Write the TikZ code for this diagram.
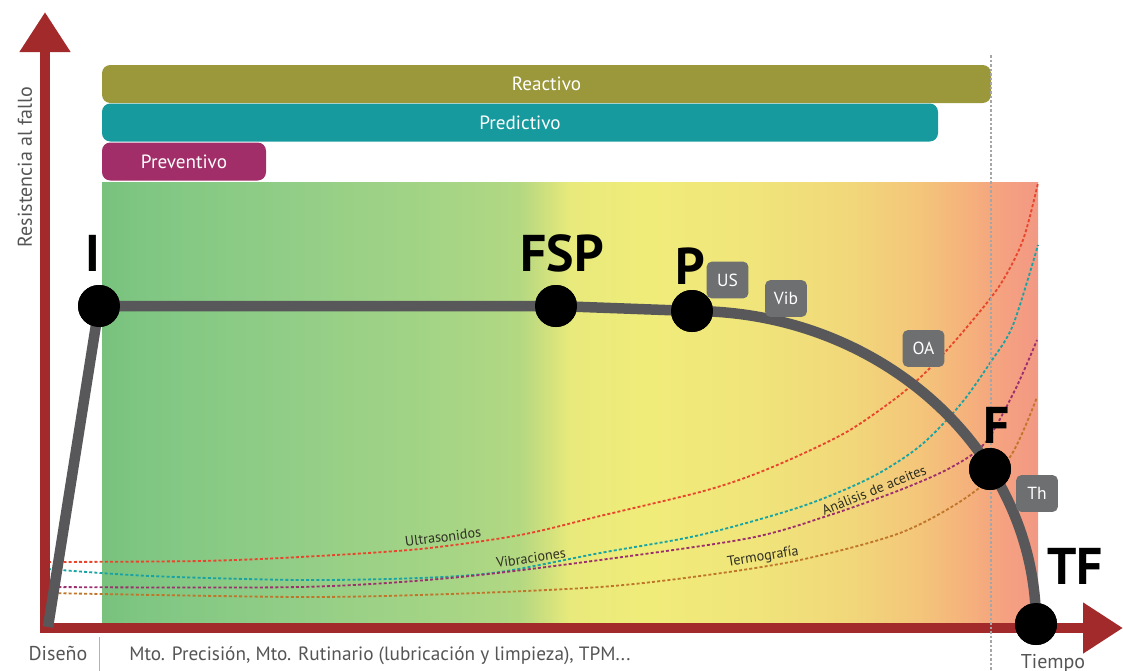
\documentclass[tikz,border=0pt]{standalone}
\usepackage{fontspec}
\setmainfont{PT Sans}
\usepackage{xcolor}
\usepackage{tikz}
\usetikzlibrary{positioning,arrows.meta}

\definecolor{axisred}{HTML}{A32A2B}
\definecolor{reactivecol}{HTML}{9B973B}
\definecolor{predictivecol}{HTML}{169A9E}
\definecolor{preventivecol}{HTML}{A22E69}
\definecolor{tagcol}{HTML}{6E6F71}
\definecolor{curvecol}{HTML}{58585A}
\definecolor{greytext}{HTML}{555555}
\definecolor{labeltext}{HTML}{2E2E22}
\definecolor{uscol}{HTML}{E8452C}
\definecolor{vibcol}{HTML}{1AA3A3}
\definecolor{oacol}{HTML}{9C2F6E}
\definecolor{thcol}{HTML}{C0762A}
\definecolor{g0}{HTML}{78C27E}
\definecolor{g1}{HTML}{80C783}
\definecolor{g2}{HTML}{93CE87}
\definecolor{g3}{HTML}{A6D585}
\definecolor{g4}{HTML}{B3D882}
\definecolor{g5}{HTML}{CFE07E}
\definecolor{g6}{HTML}{E8EA7B}
\definecolor{g7}{HTML}{F0EC7A}
\definecolor{g8}{HTML}{F0E47A}
\definecolor{g9}{HTML}{F1D77A}
\definecolor{g10}{HTML}{F4C57A}
\definecolor{g11}{HTML}{F5B07C}
\definecolor{g12}{HTML}{F5A280}
\definecolor{g13}{HTML}{F29884}

\pgfdeclarehorizontalshading{healthgrad}{100bp}{color(0bp)=(g0); color(25bp)=(g0);
  color(27.6bp)=(g1); color(35.6bp)=(g2); color(43.6bp)=(g3); color(47.3bp)=(g4);
  color(48.7bp)=(g5); color(50bp)=(g6); color(54.3bp)=(g7); color(60.1bp)=(g8);
  color(65bp)=(g9); color(68.7bp)=(g10); color(71.4bp)=(g11); color(73bp)=(g12);
  color(75bp)=(g13); color(100bp)=(g13)}

\begin{document}
\begin{tikzpicture}[x=0.6pt, y=-0.6pt,
  bar/.style={rounded corners=5pt, minimum height=22.8pt, inner sep=0pt, text=white, font=\fontsize{11.5}{13}\selectfont},
  tag/.style={fill=tagcol, rounded corners=3pt, minimum width=25pt, minimum height=22pt, inner sep=0pt, text=white, font=\fontsize{10.5}{12}\selectfont},
  dot/.style={circle, fill=black, minimum size=25.2pt, inner sep=0pt},
  stage/.style={inner sep=0pt, font=\fontsize{31}{31}\selectfont\bfseries},
  trend/.style={line width=1.1pt, dash pattern=on 1.8pt off 1.3pt},
  trendlabel/.style={inner sep=1pt, text=labeltext, font=\fontsize{8.5}{10}\selectfont},
  axislabel/.style={inner sep=0pt, text=greytext, font=\fontsize{12}{14}\selectfont},
  axis/.style={line width=6pt, draw=axisred, -{Triangle[width=29pt,length=24pt]}}]
\useasboundingbox (0,0) rectangle (1123,671);

% zonas de salud
\shade[shading=healthgrad] (102,182) rectangle (1038,624);

% estrategias
\node[bar, fill=reactivecol, minimum width=533.4pt] (reactivo) at (546.5,84) {Reactivo};
\node[bar, fill=predictivecol, minimum width=501.6pt] (predictivo) at (520,122.5) {Predictivo};
\node[bar, fill=preventivecol, minimum width=98.4pt] (preventivo) at (184,161.5) {Preventivo};

% tecnicas predictivas
\draw[trend, uscol] plot[smooth] coordinates {(48,562) (200,561) (300,557) (420,549) (520,535) (600,516)
  (700,492) (750,476) (800,455) (850,430) (900,395) (933,365) (967,327) (1000,285) (1023,240) (1038,183)};
\draw[trend, vibcol] plot[smooth] coordinates {(48,569) (150,576) (300,580) (420,578) (500,572) (600,553)
  (700,535) (800,507) (870,478) (920,446) (960,405) (990,363) (1013,325) (1038,245)};
\draw[trend, oacol] plot[smooth] coordinates {(48,587) (300,587) (450,578) (600,560) (750,538) (830,515)
  (900,490) (950,468) (985,443) (1015,390) (1037,340)};
\draw[trend, thcol] plot[smooth] coordinates {(48,593) (300,597) (450,594) (600,587) (700,576) (800,560)
  (900,533) (967,497) (1010,457) (1037,397)};

\node[trendlabel, rotate=7] (uslabel) at (443,537) {Ultrasonidos};
\node[trendlabel, rotate=8] (viblabel) at (531,558) {Vibraciones};
\node[trendlabel, rotate=22] (oalabel) at (874,490) {Análisis de aceites};
\node[trendlabel, rotate=9] (thlabel) at (763,557) {Termografía};

% ejes
\coordinate (origin) at (41,628);
\coordinate (xend) at (1123,628);
\coordinate (ybase) at (45,633);
\coordinate (yend) at (45,12);
\draw[axis] (origin) -- (xend);
\draw[axis] (ybase) -- (yend);

\coordinate (ftop) at (991,55);
\coordinate (fbottom) at (991,671);
\draw[gray!70, line width=0.9pt, dash pattern=on 1.5pt off 1.2pt] (ftop) -- (fbottom);

\coordinate (septop) at (99,637);
\coordinate (sepbottom) at (99,671);
\draw[gray!60, line width=0.5pt] (septop) -- (sepbottom);

\node[axislabel, rotate=90] (ylabel) at (25,167) {Resistencia al fallo};
\node[axislabel, anchor=base] (diseno) at (58,660) {Diseño};
\node[axislabel, anchor=base west, font=\fontsize{11.55}{13}\selectfont] (mto) at (129,660) {Mto. Precisión, Mto. Rutinario (lubricación y limpieza), TPM...};
\node[axislabel, anchor=base] (tiempo) at (1053,668) {Tiempo};

% curva P-F
\node[dot] (I) at (99,306) {};
\node[dot] (FSP) at (556,306) {};
\node[dot] (P) at (692,311) {};
\node[dot] (F) at (990,469) {};
\node[dot] (TF) at (1036,624) {};
\coordinate (design) at (48,627);

\draw[curvecol, line width=6.3pt] (design) -- (I.center) -- (FSP.center) -- (P.center)
  .. controls (882,311) and (1036,452) .. (TF.center);
\foreach \n in {I,FSP,P,F,TF}
  \fill (\n) circle (12.6pt);

\node[stage] (Ilabel) at (93,253) {I};
\node[stage] (FSPlabel) at (562,253) {FSP};
\node[stage] (Plabel) at (690,266) {P};
\node[stage] (Flabel) at (997,425) {F};
\node[stage] (TFlabel) at (1075,566) {TF};

\node[tag] (US) at (727.5,280) {US};
\node[tag] (Vib) at (786,298.5) {Vib};
\node[tag] (OA) at (923.5,348.5) {OA};
\node[tag] (Th) at (1037,493.5) {Th};

\end{tikzpicture}
\end{document}
